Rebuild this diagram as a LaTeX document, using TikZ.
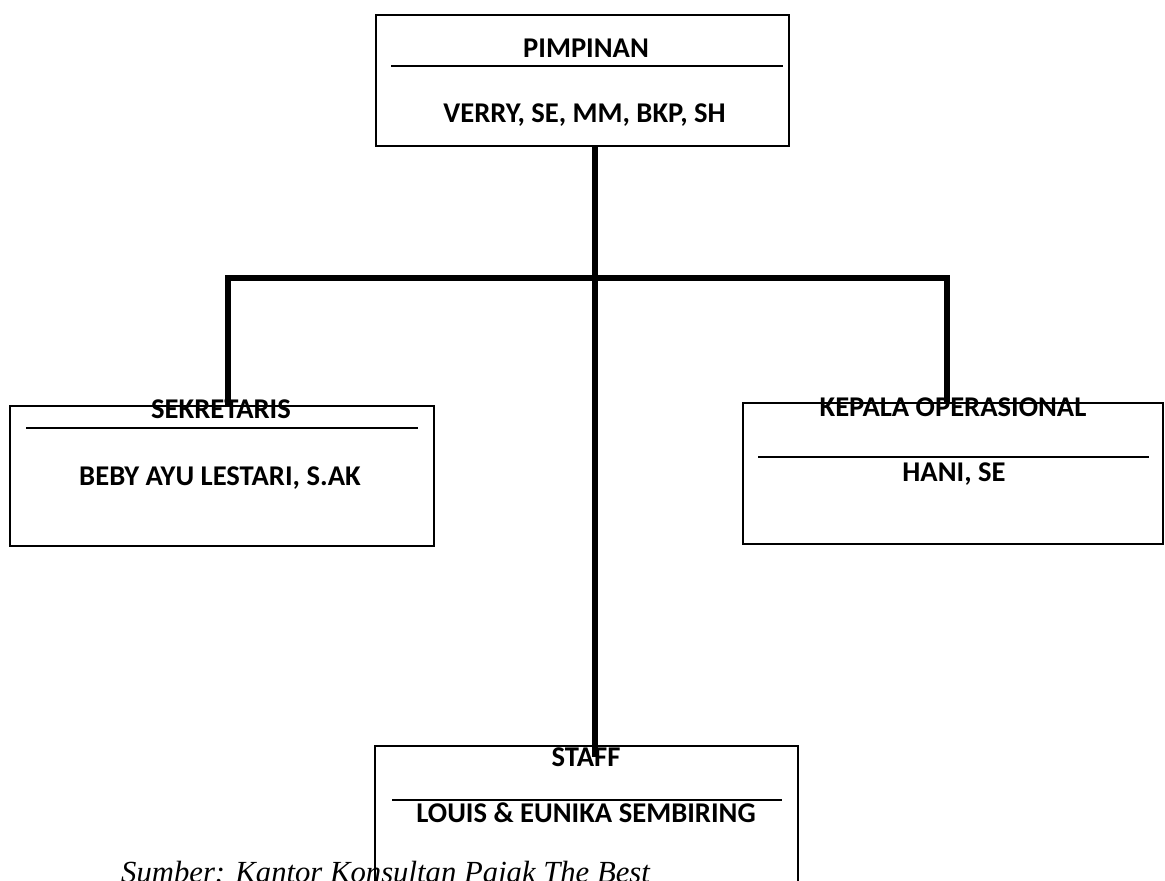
\documentclass[tikz,border=0pt]{standalone}
\usepackage{fontspec}
\setmainfont{Carlito}
\newfontfamily\srcfont{Liberation Serif}
\usetikzlibrary{calc}
\begin{document}
\begin{tikzpicture}[x=1pt,y=1pt,
  box/.style={draw=black, line width=2.4pt, fill=none, inner sep=0pt, anchor=north west},
  lbl/.style={anchor=base, inner sep=0pt, font=\fontsize{28.6}{34}\selectfont\bfseries},
  rule/.style={line width=2pt},
  conn/.style={line width=6pt, line join=miter}]
\useasboundingbox (0,0) rectangle (1165,-881);
\clip (0,0) rectangle (1165,-881);
\fill[white] (0,0) rectangle (1165,-881);

% boxes
\node[box, minimum width=413, minimum height=131] (pim) at (375,-14) {};
\node[box, minimum width=424, minimum height=140] (sek) at (9,-405) {};
\node[box, minimum width=420, minimum height=141] (kep) at (742,-402) {};
\node[box, minimum width=423, minimum height=200] (stf) at (374,-745) {};

% inner rules
\draw[rule] ($(pim.north west)+(16,-52)$) -- ($(pim.north east)+(-7,-52)$);
\draw[rule] ($(sek.north west)+(17,-23)$) -- ($(sek.north east)+(-17,-23)$);
\draw[rule] ($(kep.north west)+(16,-55)$) -- ($(kep.north east)+(-15,-55)$);
\draw[rule] ($(stf.north west)+(18,-55)$) -- ($(stf.north east)+(-17,-55)$);

% connectors
\coordinate (hl) at (228,-278);
\coordinate (hm) at (595,-278);
\coordinate (hr) at (947,-278);
\coordinate (send) at (595,-757);
\draw[conn] (pim.south -| hm) -- (send);
\draw[conn] (sek.north -| hl) -- (hl) -- (hr) -- (kep.north -| hr);

% labels
\node[lbl] (pimt) at (586,-57) {PIMPINAN};
\node[lbl] (pimn) at (584.5,-122) {VERRY, SE, MM, BKP, SH};
\node[lbl] (sekt) at (221,-418) {SEKRETARIS};
\node[lbl] (sekn) at (220,-485) {BEBY AYU LESTARI, S.AK};
\node[lbl] (kept) at (953,-416) {KEPALA OPERASIONAL};
\node[lbl] (kepn) at (954,-481) {HANI, SE};
\node[lbl] (stft) at (586,-766) {STAFF};
\node[lbl] (stfn) at (586,-822) {LOUIS \& EUNIKA SEMBIRING};

\node[anchor=base west, inner sep=0pt, font=\srcfont\itshape\fontsize{30.7}{36}\selectfont] (src) at (121,-882) {Sumber: Kantor Konsultan Pajak The Best};
\end{tikzpicture}
\end{document}
